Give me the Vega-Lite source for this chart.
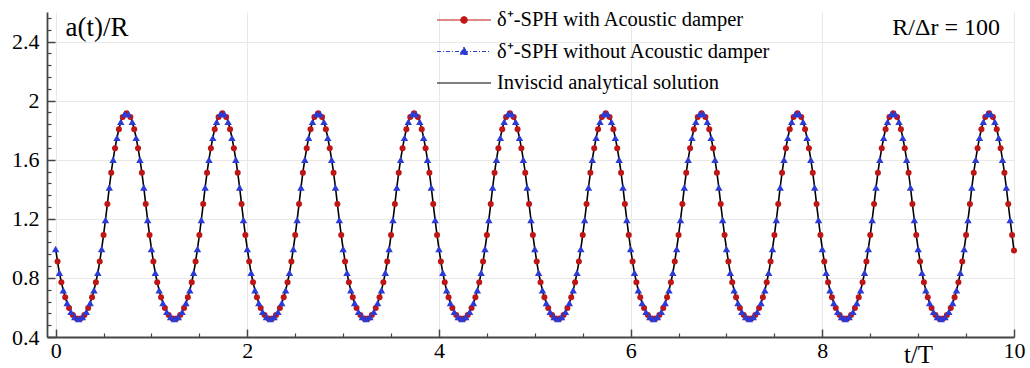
{
"$schema": "https://vega.github.io/schema/vega-lite/v6.json",
"width": 967, "height": 325,
"autosize": {"type": "none"},
"padding": {"left": 47, "top": 12, "right": 16, "bottom": 31},
"background": "white",
"config": {"view": {"stroke": null}, "font": "Liberation Serif"},
"data": {"values": [
{"t":0,"a":0.996,"s":"without"},{"t":0.02,"a":0.911,"s":"with"},{"t":0.04,"a":0.835,"s":"without"},{"t":0.06,"a":0.771,"s":"with"},{"t":0.08,"a":0.716,"s":"without"},{"t":0.1,"a":0.669,"s":"with"},{"t":0.12,"a":0.63,"s":"without"},{"t":0.14,"a":0.596,"s":"with"},{"t":0.16,"a":0.57,"s":"without"},{"t":0.18,"a":0.549,"s":"with"},{"t":0.2,"a":0.535,"s":"without"},{"t":0.22,"a":0.525,"s":"with"},{"t":0.24,"a":0.522,"s":"without"},{"t":0.26,"a":0.525,"s":"with"},{"t":0.28,"a":0.535,"s":"without"},{"t":0.3,"a":0.549,"s":"with"},{"t":0.32,"a":0.57,"s":"without"},{"t":0.34,"a":0.596,"s":"with"},{"t":0.36,"a":0.63,"s":"without"},{"t":0.38,"a":0.669,"s":"with"},{"t":0.4,"a":0.716,"s":"without"},{"t":0.42,"a":0.771,"s":"with"},{"t":0.44,"a":0.835,"s":"without"},{"t":0.46,"a":0.911,"s":"with"},{"t":0.48,"a":0.996,"s":"without"},{"t":0.5,"a":1.09,"s":"with"},{"t":0.52,"a":1.192,"s":"without"},{"t":0.54,"a":1.3,"s":"with"},{"t":0.56,"a":1.412,"s":"without"},{"t":0.58,"a":1.512,"s":"with"},{"t":0.6,"a":1.6,"s":"without"},{"t":0.62,"a":1.678,"s":"with"},{"t":0.64,"a":1.748,"s":"without"},{"t":0.66,"a":1.806,"s":"with"},{"t":0.68,"a":1.856,"s":"without"},{"t":0.7,"a":1.89,"s":"with"},{"t":0.72,"a":1.909,"s":"without"},{"t":0.74,"a":1.915,"s":"with"},{"t":0.76,"a":1.909,"s":"without"},{"t":0.78,"a":1.89,"s":"with"},{"t":0.8,"a":1.856,"s":"without"},{"t":0.82,"a":1.806,"s":"with"},{"t":0.84,"a":1.748,"s":"without"},{"t":0.86,"a":1.678,"s":"with"},{"t":0.88,"a":1.6,"s":"without"},{"t":0.9,"a":1.512,"s":"with"},{"t":0.92,"a":1.412,"s":"without"},{"t":0.94,"a":1.3,"s":"with"},{"t":0.96,"a":1.192,"s":"without"},{"t":0.98,"a":1.09,"s":"with"},
{"t":1,"a":0.996,"s":"without"},{"t":1.02,"a":0.911,"s":"with"},{"t":1.04,"a":0.835,"s":"without"},{"t":1.06,"a":0.771,"s":"with"},{"t":1.08,"a":0.716,"s":"without"},{"t":1.1,"a":0.669,"s":"with"},{"t":1.12,"a":0.63,"s":"without"},{"t":1.14,"a":0.596,"s":"with"},{"t":1.16,"a":0.57,"s":"without"},{"t":1.18,"a":0.549,"s":"with"},{"t":1.2,"a":0.535,"s":"without"},{"t":1.22,"a":0.525,"s":"with"},{"t":1.24,"a":0.522,"s":"without"},{"t":1.26,"a":0.525,"s":"with"},{"t":1.28,"a":0.535,"s":"without"},{"t":1.3,"a":0.549,"s":"with"},{"t":1.32,"a":0.57,"s":"without"},{"t":1.34,"a":0.596,"s":"with"},{"t":1.36,"a":0.63,"s":"without"},{"t":1.38,"a":0.669,"s":"with"},{"t":1.4,"a":0.716,"s":"without"},{"t":1.42,"a":0.771,"s":"with"},{"t":1.44,"a":0.835,"s":"without"},{"t":1.46,"a":0.911,"s":"with"},{"t":1.48,"a":0.996,"s":"without"},{"t":1.5,"a":1.09,"s":"with"},{"t":1.52,"a":1.192,"s":"without"},{"t":1.54,"a":1.3,"s":"with"},{"t":1.56,"a":1.412,"s":"without"},{"t":1.58,"a":1.512,"s":"with"},{"t":1.6,"a":1.6,"s":"without"},{"t":1.62,"a":1.678,"s":"with"},{"t":1.64,"a":1.748,"s":"without"},{"t":1.66,"a":1.806,"s":"with"},{"t":1.68,"a":1.856,"s":"without"},{"t":1.7,"a":1.89,"s":"with"},{"t":1.72,"a":1.909,"s":"without"},{"t":1.74,"a":1.915,"s":"with"},{"t":1.76,"a":1.909,"s":"without"},{"t":1.78,"a":1.89,"s":"with"},{"t":1.8,"a":1.856,"s":"without"},{"t":1.82,"a":1.806,"s":"with"},{"t":1.84,"a":1.748,"s":"without"},{"t":1.86,"a":1.678,"s":"with"},{"t":1.88,"a":1.6,"s":"without"},{"t":1.9,"a":1.512,"s":"with"},{"t":1.92,"a":1.412,"s":"without"},{"t":1.94,"a":1.3,"s":"with"},{"t":1.96,"a":1.192,"s":"without"},{"t":1.98,"a":1.09,"s":"with"},
{"t":2,"a":0.996,"s":"without"},{"t":2.02,"a":0.911,"s":"with"},{"t":2.04,"a":0.835,"s":"without"},{"t":2.06,"a":0.771,"s":"with"},{"t":2.08,"a":0.716,"s":"without"},{"t":2.1,"a":0.669,"s":"with"},{"t":2.12,"a":0.63,"s":"without"},{"t":2.14,"a":0.596,"s":"with"},{"t":2.16,"a":0.57,"s":"without"},{"t":2.18,"a":0.549,"s":"with"},{"t":2.2,"a":0.535,"s":"without"},{"t":2.22,"a":0.525,"s":"with"},{"t":2.24,"a":0.522,"s":"without"},{"t":2.26,"a":0.525,"s":"with"},{"t":2.28,"a":0.535,"s":"without"},{"t":2.3,"a":0.549,"s":"with"},{"t":2.32,"a":0.57,"s":"without"},{"t":2.34,"a":0.596,"s":"with"},{"t":2.36,"a":0.63,"s":"without"},{"t":2.38,"a":0.669,"s":"with"},{"t":2.4,"a":0.716,"s":"without"},{"t":2.42,"a":0.771,"s":"with"},{"t":2.44,"a":0.835,"s":"without"},{"t":2.46,"a":0.911,"s":"with"},{"t":2.48,"a":0.996,"s":"without"},{"t":2.5,"a":1.09,"s":"with"},{"t":2.52,"a":1.192,"s":"without"},{"t":2.54,"a":1.3,"s":"with"},{"t":2.56,"a":1.412,"s":"without"},{"t":2.58,"a":1.512,"s":"with"},{"t":2.6,"a":1.6,"s":"without"},{"t":2.62,"a":1.678,"s":"with"},{"t":2.64,"a":1.748,"s":"without"},{"t":2.66,"a":1.806,"s":"with"},{"t":2.68,"a":1.856,"s":"without"},{"t":2.7,"a":1.89,"s":"with"},{"t":2.72,"a":1.909,"s":"without"},{"t":2.74,"a":1.915,"s":"with"},{"t":2.76,"a":1.909,"s":"without"},{"t":2.78,"a":1.89,"s":"with"},{"t":2.8,"a":1.856,"s":"without"},{"t":2.82,"a":1.806,"s":"with"},{"t":2.84,"a":1.748,"s":"without"},{"t":2.86,"a":1.678,"s":"with"},{"t":2.88,"a":1.6,"s":"without"},{"t":2.9,"a":1.512,"s":"with"},{"t":2.92,"a":1.412,"s":"without"},{"t":2.94,"a":1.3,"s":"with"},{"t":2.96,"a":1.192,"s":"without"},{"t":2.98,"a":1.09,"s":"with"},
{"t":3,"a":0.996,"s":"without"},{"t":3.02,"a":0.911,"s":"with"},{"t":3.04,"a":0.835,"s":"without"},{"t":3.06,"a":0.771,"s":"with"},{"t":3.08,"a":0.716,"s":"without"},{"t":3.1,"a":0.669,"s":"with"},{"t":3.12,"a":0.63,"s":"without"},{"t":3.14,"a":0.596,"s":"with"},{"t":3.16,"a":0.57,"s":"without"},{"t":3.18,"a":0.549,"s":"with"},{"t":3.2,"a":0.535,"s":"without"},{"t":3.22,"a":0.525,"s":"with"},{"t":3.24,"a":0.522,"s":"without"},{"t":3.26,"a":0.525,"s":"with"},{"t":3.28,"a":0.535,"s":"without"},{"t":3.3,"a":0.549,"s":"with"},{"t":3.32,"a":0.57,"s":"without"},{"t":3.34,"a":0.596,"s":"with"},{"t":3.36,"a":0.63,"s":"without"},{"t":3.38,"a":0.669,"s":"with"},{"t":3.4,"a":0.716,"s":"without"},{"t":3.42,"a":0.771,"s":"with"},{"t":3.44,"a":0.835,"s":"without"},{"t":3.46,"a":0.911,"s":"with"},{"t":3.48,"a":0.996,"s":"without"},{"t":3.5,"a":1.09,"s":"with"},{"t":3.52,"a":1.192,"s":"without"},{"t":3.54,"a":1.3,"s":"with"},{"t":3.56,"a":1.412,"s":"without"},{"t":3.58,"a":1.512,"s":"with"},{"t":3.6,"a":1.6,"s":"without"},{"t":3.62,"a":1.678,"s":"with"},{"t":3.64,"a":1.748,"s":"without"},{"t":3.66,"a":1.806,"s":"with"},{"t":3.68,"a":1.856,"s":"without"},{"t":3.7,"a":1.89,"s":"with"},{"t":3.72,"a":1.909,"s":"without"},{"t":3.74,"a":1.915,"s":"with"},{"t":3.76,"a":1.909,"s":"without"},{"t":3.78,"a":1.89,"s":"with"},{"t":3.8,"a":1.856,"s":"without"},{"t":3.82,"a":1.806,"s":"with"},{"t":3.84,"a":1.748,"s":"without"},{"t":3.86,"a":1.678,"s":"with"},{"t":3.88,"a":1.6,"s":"without"},{"t":3.9,"a":1.512,"s":"with"},{"t":3.92,"a":1.412,"s":"without"},{"t":3.94,"a":1.3,"s":"with"},{"t":3.96,"a":1.192,"s":"without"},{"t":3.98,"a":1.09,"s":"with"},
{"t":4,"a":0.996,"s":"without"},{"t":4.02,"a":0.911,"s":"with"},{"t":4.04,"a":0.835,"s":"without"},{"t":4.06,"a":0.771,"s":"with"},{"t":4.08,"a":0.716,"s":"without"},{"t":4.1,"a":0.669,"s":"with"},{"t":4.12,"a":0.63,"s":"without"},{"t":4.14,"a":0.596,"s":"with"},{"t":4.16,"a":0.57,"s":"without"},{"t":4.18,"a":0.549,"s":"with"},{"t":4.2,"a":0.535,"s":"without"},{"t":4.22,"a":0.525,"s":"with"},{"t":4.24,"a":0.522,"s":"without"},{"t":4.26,"a":0.525,"s":"with"},{"t":4.28,"a":0.535,"s":"without"},{"t":4.3,"a":0.549,"s":"with"},{"t":4.32,"a":0.57,"s":"without"},{"t":4.34,"a":0.596,"s":"with"},{"t":4.36,"a":0.63,"s":"without"},{"t":4.38,"a":0.669,"s":"with"},{"t":4.4,"a":0.716,"s":"without"},{"t":4.42,"a":0.771,"s":"with"},{"t":4.44,"a":0.835,"s":"without"},{"t":4.46,"a":0.911,"s":"with"},{"t":4.48,"a":0.996,"s":"without"},{"t":4.5,"a":1.09,"s":"with"},{"t":4.52,"a":1.192,"s":"without"},{"t":4.54,"a":1.3,"s":"with"},{"t":4.56,"a":1.412,"s":"without"},{"t":4.58,"a":1.512,"s":"with"},{"t":4.6,"a":1.6,"s":"without"},{"t":4.62,"a":1.678,"s":"with"},{"t":4.64,"a":1.748,"s":"without"},{"t":4.66,"a":1.806,"s":"with"},{"t":4.68,"a":1.856,"s":"without"},{"t":4.7,"a":1.89,"s":"with"},{"t":4.72,"a":1.909,"s":"without"},{"t":4.74,"a":1.915,"s":"with"},{"t":4.76,"a":1.909,"s":"without"},{"t":4.78,"a":1.89,"s":"with"},{"t":4.8,"a":1.856,"s":"without"},{"t":4.82,"a":1.806,"s":"with"},{"t":4.84,"a":1.748,"s":"without"},{"t":4.86,"a":1.678,"s":"with"},{"t":4.88,"a":1.6,"s":"without"},{"t":4.9,"a":1.512,"s":"with"},{"t":4.92,"a":1.412,"s":"without"},{"t":4.94,"a":1.3,"s":"with"},{"t":4.96,"a":1.192,"s":"without"},{"t":4.98,"a":1.09,"s":"with"},
{"t":5,"a":0.996,"s":"without"},{"t":5.02,"a":0.911,"s":"with"},{"t":5.04,"a":0.835,"s":"without"},{"t":5.06,"a":0.771,"s":"with"},{"t":5.08,"a":0.716,"s":"without"},{"t":5.1,"a":0.669,"s":"with"},{"t":5.12,"a":0.63,"s":"without"},{"t":5.14,"a":0.596,"s":"with"},{"t":5.16,"a":0.57,"s":"without"},{"t":5.18,"a":0.549,"s":"with"},{"t":5.2,"a":0.535,"s":"without"},{"t":5.22,"a":0.525,"s":"with"},{"t":5.24,"a":0.522,"s":"without"},{"t":5.26,"a":0.525,"s":"with"},{"t":5.28,"a":0.535,"s":"without"},{"t":5.3,"a":0.549,"s":"with"},{"t":5.32,"a":0.57,"s":"without"},{"t":5.34,"a":0.596,"s":"with"},{"t":5.36,"a":0.63,"s":"without"},{"t":5.38,"a":0.669,"s":"with"},{"t":5.4,"a":0.716,"s":"without"},{"t":5.42,"a":0.771,"s":"with"},{"t":5.44,"a":0.835,"s":"without"},{"t":5.46,"a":0.911,"s":"with"},{"t":5.48,"a":0.996,"s":"without"},{"t":5.5,"a":1.09,"s":"with"},{"t":5.52,"a":1.192,"s":"without"},{"t":5.54,"a":1.3,"s":"with"},{"t":5.56,"a":1.412,"s":"without"},{"t":5.58,"a":1.512,"s":"with"},{"t":5.6,"a":1.6,"s":"without"},{"t":5.62,"a":1.678,"s":"with"},{"t":5.64,"a":1.748,"s":"without"},{"t":5.66,"a":1.806,"s":"with"},{"t":5.68,"a":1.856,"s":"without"},{"t":5.7,"a":1.89,"s":"with"},{"t":5.72,"a":1.909,"s":"without"},{"t":5.74,"a":1.915,"s":"with"},{"t":5.76,"a":1.909,"s":"without"},{"t":5.78,"a":1.89,"s":"with"},{"t":5.8,"a":1.856,"s":"without"},{"t":5.82,"a":1.806,"s":"with"},{"t":5.84,"a":1.748,"s":"without"},{"t":5.86,"a":1.678,"s":"with"},{"t":5.88,"a":1.6,"s":"without"},{"t":5.9,"a":1.512,"s":"with"},{"t":5.92,"a":1.412,"s":"without"},{"t":5.94,"a":1.3,"s":"with"},{"t":5.96,"a":1.192,"s":"without"},{"t":5.98,"a":1.09,"s":"with"},
{"t":6,"a":0.996,"s":"without"},{"t":6.02,"a":0.911,"s":"with"},{"t":6.04,"a":0.835,"s":"without"},{"t":6.06,"a":0.771,"s":"with"},{"t":6.08,"a":0.716,"s":"without"},{"t":6.1,"a":0.669,"s":"with"},{"t":6.12,"a":0.63,"s":"without"},{"t":6.14,"a":0.596,"s":"with"},{"t":6.16,"a":0.57,"s":"without"},{"t":6.18,"a":0.549,"s":"with"},{"t":6.2,"a":0.535,"s":"without"},{"t":6.22,"a":0.525,"s":"with"},{"t":6.24,"a":0.522,"s":"without"},{"t":6.26,"a":0.525,"s":"with"},{"t":6.28,"a":0.535,"s":"without"},{"t":6.3,"a":0.549,"s":"with"},{"t":6.32,"a":0.57,"s":"without"},{"t":6.34,"a":0.596,"s":"with"},{"t":6.36,"a":0.63,"s":"without"},{"t":6.38,"a":0.669,"s":"with"},{"t":6.4,"a":0.716,"s":"without"},{"t":6.42,"a":0.771,"s":"with"},{"t":6.44,"a":0.835,"s":"without"},{"t":6.46,"a":0.911,"s":"with"},{"t":6.48,"a":0.996,"s":"without"},{"t":6.5,"a":1.09,"s":"with"},{"t":6.52,"a":1.192,"s":"without"},{"t":6.54,"a":1.3,"s":"with"},{"t":6.56,"a":1.412,"s":"without"},{"t":6.58,"a":1.512,"s":"with"},{"t":6.6,"a":1.6,"s":"without"},{"t":6.62,"a":1.678,"s":"with"},{"t":6.64,"a":1.748,"s":"without"},{"t":6.66,"a":1.806,"s":"with"},{"t":6.68,"a":1.856,"s":"without"},{"t":6.7,"a":1.89,"s":"with"},{"t":6.72,"a":1.909,"s":"without"},{"t":6.74,"a":1.915,"s":"with"},{"t":6.76,"a":1.909,"s":"without"},{"t":6.78,"a":1.89,"s":"with"},{"t":6.8,"a":1.856,"s":"without"},{"t":6.82,"a":1.806,"s":"with"},{"t":6.84,"a":1.748,"s":"without"},{"t":6.86,"a":1.678,"s":"with"},{"t":6.88,"a":1.6,"s":"without"},{"t":6.9,"a":1.512,"s":"with"},{"t":6.92,"a":1.412,"s":"without"},{"t":6.94,"a":1.3,"s":"with"},{"t":6.96,"a":1.192,"s":"without"},{"t":6.98,"a":1.09,"s":"with"},
{"t":7,"a":0.996,"s":"without"},{"t":7.02,"a":0.911,"s":"with"},{"t":7.04,"a":0.835,"s":"without"},{"t":7.06,"a":0.771,"s":"with"},{"t":7.08,"a":0.716,"s":"without"},{"t":7.1,"a":0.669,"s":"with"},{"t":7.12,"a":0.63,"s":"without"},{"t":7.14,"a":0.596,"s":"with"},{"t":7.16,"a":0.57,"s":"without"},{"t":7.18,"a":0.549,"s":"with"},{"t":7.2,"a":0.535,"s":"without"},{"t":7.22,"a":0.525,"s":"with"},{"t":7.24,"a":0.522,"s":"without"},{"t":7.26,"a":0.525,"s":"with"},{"t":7.28,"a":0.535,"s":"without"},{"t":7.3,"a":0.549,"s":"with"},{"t":7.32,"a":0.57,"s":"without"},{"t":7.34,"a":0.596,"s":"with"},{"t":7.36,"a":0.63,"s":"without"},{"t":7.38,"a":0.669,"s":"with"},{"t":7.4,"a":0.716,"s":"without"},{"t":7.42,"a":0.771,"s":"with"},{"t":7.44,"a":0.835,"s":"without"},{"t":7.46,"a":0.911,"s":"with"},{"t":7.48,"a":0.996,"s":"without"},{"t":7.5,"a":1.09,"s":"with"},{"t":7.52,"a":1.192,"s":"without"},{"t":7.54,"a":1.3,"s":"with"},{"t":7.56,"a":1.412,"s":"without"},{"t":7.58,"a":1.512,"s":"with"},{"t":7.6,"a":1.6,"s":"without"},{"t":7.62,"a":1.678,"s":"with"},{"t":7.64,"a":1.748,"s":"without"},{"t":7.66,"a":1.806,"s":"with"},{"t":7.68,"a":1.856,"s":"without"},{"t":7.7,"a":1.89,"s":"with"},{"t":7.72,"a":1.909,"s":"without"},{"t":7.74,"a":1.915,"s":"with"},{"t":7.76,"a":1.909,"s":"without"},{"t":7.78,"a":1.89,"s":"with"},{"t":7.8,"a":1.856,"s":"without"},{"t":7.82,"a":1.806,"s":"with"},{"t":7.84,"a":1.748,"s":"without"},{"t":7.86,"a":1.678,"s":"with"},{"t":7.88,"a":1.6,"s":"without"},{"t":7.9,"a":1.512,"s":"with"},{"t":7.92,"a":1.412,"s":"without"},{"t":7.94,"a":1.3,"s":"with"},{"t":7.96,"a":1.192,"s":"without"},{"t":7.98,"a":1.09,"s":"with"},
{"t":8,"a":0.996,"s":"without"},{"t":8.02,"a":0.911,"s":"with"},{"t":8.04,"a":0.835,"s":"without"},{"t":8.06,"a":0.771,"s":"with"},{"t":8.08,"a":0.716,"s":"without"},{"t":8.1,"a":0.669,"s":"with"},{"t":8.12,"a":0.63,"s":"without"},{"t":8.14,"a":0.596,"s":"with"},{"t":8.16,"a":0.57,"s":"without"},{"t":8.18,"a":0.549,"s":"with"},{"t":8.2,"a":0.535,"s":"without"},{"t":8.22,"a":0.525,"s":"with"},{"t":8.24,"a":0.522,"s":"without"},{"t":8.26,"a":0.525,"s":"with"},{"t":8.28,"a":0.535,"s":"without"},{"t":8.3,"a":0.549,"s":"with"},{"t":8.32,"a":0.57,"s":"without"},{"t":8.34,"a":0.596,"s":"with"},{"t":8.36,"a":0.63,"s":"without"},{"t":8.38,"a":0.669,"s":"with"},{"t":8.4,"a":0.716,"s":"without"},{"t":8.42,"a":0.771,"s":"with"},{"t":8.44,"a":0.835,"s":"without"},{"t":8.46,"a":0.911,"s":"with"},{"t":8.48,"a":0.996,"s":"without"},{"t":8.5,"a":1.09,"s":"with"},{"t":8.52,"a":1.192,"s":"without"},{"t":8.54,"a":1.3,"s":"with"},{"t":8.56,"a":1.412,"s":"without"},{"t":8.58,"a":1.512,"s":"with"},{"t":8.6,"a":1.6,"s":"without"},{"t":8.62,"a":1.678,"s":"with"},{"t":8.64,"a":1.748,"s":"without"},{"t":8.66,"a":1.806,"s":"with"},{"t":8.68,"a":1.856,"s":"without"},{"t":8.7,"a":1.89,"s":"with"},{"t":8.72,"a":1.909,"s":"without"},{"t":8.74,"a":1.915,"s":"with"},{"t":8.76,"a":1.909,"s":"without"},{"t":8.78,"a":1.89,"s":"with"},{"t":8.8,"a":1.856,"s":"without"},{"t":8.82,"a":1.806,"s":"with"},{"t":8.84,"a":1.748,"s":"without"},{"t":8.86,"a":1.678,"s":"with"},{"t":8.88,"a":1.6,"s":"without"},{"t":8.9,"a":1.512,"s":"with"},{"t":8.92,"a":1.412,"s":"without"},{"t":8.94,"a":1.3,"s":"with"},{"t":8.96,"a":1.192,"s":"without"},{"t":8.98,"a":1.09,"s":"with"},
{"t":9,"a":0.996,"s":"without"},{"t":9.02,"a":0.911,"s":"with"},{"t":9.04,"a":0.835,"s":"without"},{"t":9.06,"a":0.771,"s":"with"},{"t":9.08,"a":0.716,"s":"without"},{"t":9.1,"a":0.669,"s":"with"},{"t":9.12,"a":0.63,"s":"without"},{"t":9.14,"a":0.596,"s":"with"},{"t":9.16,"a":0.57,"s":"without"},{"t":9.18,"a":0.549,"s":"with"},{"t":9.2,"a":0.535,"s":"without"},{"t":9.22,"a":0.525,"s":"with"},{"t":9.24,"a":0.522,"s":"without"},{"t":9.26,"a":0.525,"s":"with"},{"t":9.28,"a":0.535,"s":"without"},{"t":9.3,"a":0.549,"s":"with"},{"t":9.32,"a":0.57,"s":"without"},{"t":9.34,"a":0.596,"s":"with"},{"t":9.36,"a":0.63,"s":"without"},{"t":9.38,"a":0.669,"s":"with"},{"t":9.4,"a":0.716,"s":"without"},{"t":9.42,"a":0.771,"s":"with"},{"t":9.44,"a":0.835,"s":"without"},{"t":9.46,"a":0.911,"s":"with"},{"t":9.48,"a":0.996,"s":"without"},{"t":9.5,"a":1.09,"s":"with"},{"t":9.52,"a":1.192,"s":"without"},{"t":9.54,"a":1.3,"s":"with"},{"t":9.56,"a":1.412,"s":"without"},{"t":9.58,"a":1.512,"s":"with"},{"t":9.6,"a":1.6,"s":"without"},{"t":9.62,"a":1.678,"s":"with"},{"t":9.64,"a":1.748,"s":"without"},{"t":9.66,"a":1.806,"s":"with"},{"t":9.68,"a":1.856,"s":"without"},{"t":9.7,"a":1.89,"s":"with"},{"t":9.72,"a":1.909,"s":"without"},{"t":9.74,"a":1.915,"s":"with"},{"t":9.76,"a":1.909,"s":"without"},{"t":9.78,"a":1.89,"s":"with"},{"t":9.8,"a":1.856,"s":"without"},{"t":9.82,"a":1.806,"s":"with"},{"t":9.84,"a":1.748,"s":"without"},{"t":9.86,"a":1.678,"s":"with"},{"t":9.88,"a":1.6,"s":"without"},{"t":9.9,"a":1.512,"s":"with"},{"t":9.92,"a":1.412,"s":"without"},{"t":9.94,"a":1.3,"s":"with"},{"t":9.96,"a":1.192,"s":"without"},{"t":9.98,"a":1.09,"s":"with"},
{"t":10,"a":0.985,"s":"with"}
]},
"resolve": {"axis": {"x": "independent", "y": "independent"}},
"layer": [
{
"mark": {"type": "line", "color": "#000000", "strokeWidth": 1.6, "interpolate": "monotone"},
"encoding": {
"x": {"field": "t", "type": "quantitative",
 "scale": {"domain": [-0.09, 10], "nice": false, "zero": false},
 "axis": {"orient": "bottom", "values": [0,2,4,6,8,10], "format": "~r", "title": "t/T",
  "titleFont": "Liberation Serif", "titleFontSize": 25, "titleFontWeight": "normal", "titleColor": "black",
  "titleX": 871, "titleY": 30, "titleAlign": "center", "titleBaseline": "bottom",
  "labelFont": "Liberation Serif", "labelFontSize": 22, "labelColor": "black", "labelPadding": 11,
  "labelFlush": false, "labelOverlap": false,
  "tickSize": -8, "tickColor": "#444444", "tickWidth": 1.5,
  "domainColor": "#444444", "domainWidth": 1.8,
  "grid": true, "gridColor": "#e8e8e8", "gridWidth": 1}},
"y": {"field": "a", "type": "quantitative",
 "scale": {"domain": [0.4, 2.6], "nice": false, "zero": false},
 "axis": {"orient": "left", "values": [0.4,0.8,1.2,1.6,2,2.4], "format": "~r", "title": "a(t)/R",
  "titleFont": "Liberation Serif", "titleFontSize": 27, "titleFontWeight": "normal", "titleColor": "black",
  "titleAngle": 0, "titleX": 18, "titleY": 23, "titleAlign": "left", "titleBaseline": "alphabetic",
  "labelFont": "Liberation Serif", "labelFontSize": 22, "labelColor": "black", "labelPadding": 16,
  "labelFlush": false, "labelOverlap": false,
  "tickSize": -8, "tickColor": "#444444", "tickWidth": 1.5,
  "domainColor": "#444444", "domainWidth": 1.8,
  "grid": true, "gridColor": "#e8e8e8", "gridWidth": 1}}
}
},
{
"transform": [{"filter": "datum.s === 'with'"}],
"mark": {"type": "point", "shape": "circle", "filled": true, "size": 36, "opacity": 1, "color": "#c01515"},
"encoding": {
"x": {"field": "t", "type": "quantitative", "axis": null},
"y": {"field": "a", "type": "quantitative", "axis": null}
}
},
{
"transform": [{"filter": "datum.s === 'without'"}],
"mark": {"type": "point", "shape": "triangle-up", "filled": true, "size": 55, "opacity": 1, "color": "#2b3bd6"},
"encoding": {
"x": {"field": "t", "type": "quantitative", "axis": null},
"y": {"field": "a", "type": "quantitative", "axis": null}
}
},
{
"transform": [{"filter": "false"}],
"mark": {"type": "point", "opacity": 1, "size": 400, "strokeWidth": 1},
"encoding": {
"x": {"field": "t", "type": "quantitative", "axis": null},
"y": {"field": "a", "type": "quantitative", "axis": null},
"fill": {"field": "s", "type": "nominal",
 "scale": {"domain": ["with", "without", "analytic"], "range": ["#c01515", "#2b3bd6", "transparent"]},
 "legend": {"orient": "none", "legendX": 406, "legendY": -3, "title": null, "padding": 0, "symbolSize": 400, "symbolStrokeWidth": 1.1, "labelFont": "Liberation Serif", "labelFontSize": 20.5, "labelColor": "black", "labelOffset": 22, "rowPadding": 9.5, "labelLimit": 0, "symbolOpacity": 1,
  "labelExpr": "datum.value === 'with' ? 'δ⁺-SPH with Acoustic damper' : datum.value === 'without' ? 'δ⁺-SPH without Acoustic damper' : 'Inviscid analytical solution'"}},
"stroke": {"field": "s", "type": "nominal",
 "scale": {"domain": ["with", "without", "analytic"], "range": ["#c01515", "#2b3bd6", "#000000"]},
 "legend": {"orient": "none", "legendX": 406, "legendY": -3, "title": null, "padding": 0, "symbolSize": 400, "symbolStrokeWidth": 1.1, "labelFont": "Liberation Serif", "labelFontSize": 20.5, "labelColor": "black", "labelOffset": 22, "rowPadding": 9.5, "labelLimit": 0, "symbolOpacity": 1,
  "labelExpr": "datum.value === 'with' ? 'δ⁺-SPH with Acoustic damper' : datum.value === 'without' ? 'δ⁺-SPH without Acoustic damper' : 'Inviscid analytical solution'"}},
"shape": {"field": "s", "type": "nominal",
 "scale": {"domain": ["with", "without", "analytic"], "range": ["M-2.7,0H2.7M-0.32,0A0.32,0.32,0,1,0,0.32,0A0.32,0.32,0,1,0,-0.32,0Z", "M-2.7,0H2.7M0,-0.42L0.42,0.3L-0.42,0.3Z", "M-2.7,0H2.7"]},
 "legend": {"orient": "none", "legendX": 406, "legendY": -3, "title": null, "padding": 0, "symbolSize": 400, "symbolStrokeWidth": 1.1, "labelFont": "Liberation Serif", "labelFontSize": 20.5, "labelColor": "black", "labelOffset": 22, "rowPadding": 9.5, "labelLimit": 0, "symbolOpacity": 1,
  "labelExpr": "datum.value === 'with' ? 'δ⁺-SPH with Acoustic damper' : datum.value === 'without' ? 'δ⁺-SPH without Acoustic damper' : 'Inviscid analytical solution'"}},
"strokeDash": {"field": "s", "type": "nominal",
 "scale": {"domain": ["with", "without", "analytic"], "range": [[1, 0], [4, 2, 1, 2], [1, 0]]},
 "legend": {"orient": "none", "legendX": 406, "legendY": -3, "title": null, "padding": 0, "symbolSize": 400, "symbolStrokeWidth": 1.1, "labelFont": "Liberation Serif", "labelFontSize": 20.5, "labelColor": "black", "labelOffset": 22, "rowPadding": 9.5, "labelLimit": 0, "symbolOpacity": 1,
  "labelExpr": "datum.value === 'with' ? 'δ⁺-SPH with Acoustic damper' : datum.value === 'without' ? 'δ⁺-SPH without Acoustic damper' : 'Inviscid analytical solution'"}}
}
},
{
"data": {"values": [{"label": "R/Δr = 100"}]},
"mark": {"type": "text", "align": "left", "baseline": "alphabetic", "fontSize": 24, "font": "Liberation Serif", "color": "#000000"},
"encoding": {
"text": {"field": "label"},
"x": {"datum": 8.73, "type": "quantitative",
 "axis": {"orient": "bottom", "values": [0.5,1,1.5,2.5,3,3.5,4.5,5,5.5,6.5,7,7.5,8.5,9,9.5], "labels": false, "domain": false, "grid": false, "tickSize": -4, "tickColor": "#444444", "tickWidth": 1.2, "title": null}},
"y": {"datum": 2.446, "type": "quantitative",
 "axis": {"orient": "left", "values": [0.48,0.56,0.64,0.72,0.88,0.96,1.04,1.12,1.28,1.36,1.44,1.52,1.68,1.76,1.84,1.92,2.08,2.16,2.24,2.32,2.48,2.56], "labels": false, "domain": false, "grid": false, "tickSize": -4, "tickColor": "#444444", "tickWidth": 1.2, "title": null}}
}
}
]
}
